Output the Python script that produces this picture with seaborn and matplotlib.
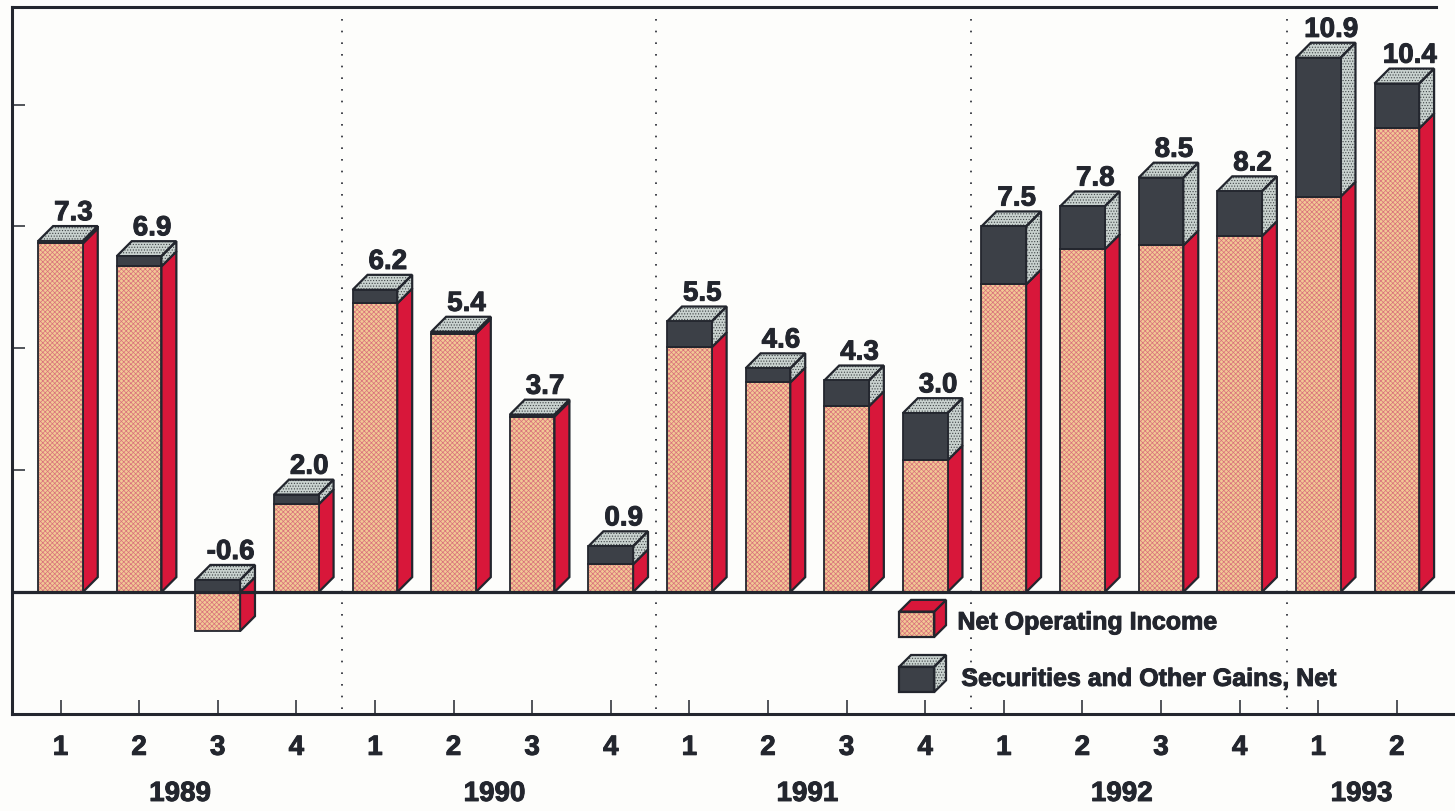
import matplotlib
matplotlib.use("Agg")
import matplotlib.pyplot as plt
import matplotlib.patheffects as pe
from matplotlib.patches import Polygon, Rectangle
import numpy as np
import pandas as pd
import seaborn as sns

quarters = ["1", "2", "3", "4", "1", "2", "3", "4", "1", "2", "3", "4", "1", "2", "3", "4", "1", "2"]
net_operating = [7.15, 6.68, -0.8, 1.80, 5.92, 5.30, 3.60, 0.57, 5.02, 4.30, 3.81, 2.70, 6.31, 7.03, 7.11, 7.30, 8.11, 9.51]
securities = [0.05, 0.21, 0.25, 0.20, 0.28, 0.04, 0.04, 0.37, 0.53, 0.29, 0.53, 0.97, 1.19, 0.88, 1.39, 0.92, 2.85, 0.92]
bar_labels = ["7.3", "6.9", "-0.6", "2.0", "6.2", "5.4", "3.7", "0.9", "5.5", "4.6", "4.3", "3.0", "7.5", "7.8", "8.5", "8.2", "10.9", "10.4"]
years = ["1989", "1990", "1991", "1992", "1993"]
year_centers = [1.52, 5.52, 9.5, 13.5, 16.55]
year_dividers = [3.58, 7.58, 11.58, 15.6]
series_names = ["Net Operating Income", "Securities and Other Gains, Net"]

INK = "#23262e"
DARK = "#3c4047"
RED = "#d8173a"
SAND = "#f2c994"
SAND_HATCH = "#d9707c"
GREY = "#c9d2cf"
GREY_HATCH = "#3f4547"
BAR_W = 0.568
DX, DY = 0.19, 0.307
HEAVY = [pe.withStroke(linewidth=0.7, foreground=INK)]

sns.set_style("white")
plt.rcParams["font.family"] = ["Liberation Sans", "DejaVu Sans"]
plt.rcParams["hatch.linewidth"] = 0.5

df = pd.DataFrame({"pos": np.arange(len(quarters)), "noi": net_operating, "sec": securities})
df["sec_base"] = df["noi"].clip(lower=0)
df["top"] = df["sec_base"] + df["sec"]

fig = plt.figure(figsize=(14.55, 8.12), dpi=100, facecolor="#fdfdfb")
ax = fig.add_axes([12 / 1455, (812 - 715) / 812, (1455 - 12) / 1455, (715 - 8) / 812])
ax.set_facecolor("#fdfdfb")

sns.barplot(data=df, x="pos", y="noi", native_scale=True, width=BAR_W, color=SAND,
            saturation=1, linewidth=0, ax=ax, errorbar=None, zorder=3)
n_first = len(ax.patches)
sns.barplot(data=df, x="pos", y="sec", native_scale=True, width=BAR_W, color=DARK,
            saturation=1, linewidth=0, ax=ax, errorbar=None, zorder=3, bottom=df["sec_base"].values)

for p in ax.patches[:n_first]:
    p.set_hatch("xxxxxxx")
    p.set_edgecolor(SAND_HATCH)
    p.set_linewidth(0)


def face(points, fc, hatch=None, hc=None, z=3.0):
    if hatch:
        ax.add_patch(Polygon(points, closed=True, facecolor=fc, edgecolor=hc, hatch=hatch,
                             linewidth=0, zorder=z))
        ax.add_patch(Polygon(points, closed=True, fill=False, edgecolor=INK, linewidth=1.6,
                             zorder=z + 0.1))
    else:
        ax.add_patch(Polygon(points, closed=True, facecolor=fc, edgecolor=INK, linewidth=1.6,
                             zorder=z))


def side(x, y0, y1, fc, hatch=None, hc=None, z=3.0):
    r = x + BAR_W / 2
    face([(r, y0), (r + DX, y0 + DY), (r + DX, y1 + DY), (r, y1)], fc, hatch, hc, z)


for row in df.itertuples():
    x = row.pos
    l = x - BAR_W / 2
    low, high = sorted((0, row.noi))
    side(x, low, high, RED, z=2.6)
    side(x, row.sec_base, row.top, GREY, "......", GREY_HATCH, z=2.7)
    face([(l, row.top), (l + DX, row.top + DY), (l + BAR_W + DX, row.top + DY), (l + BAR_W, row.top)],
         GREY, "......", GREY_HATCH, z=2.8)
    ax.add_patch(Rectangle((l, low), BAR_W, high - low, fill=False, edgecolor=INK, linewidth=1.3, zorder=3.4))
    ax.add_patch(Rectangle((l, row.sec_base), BAR_W, row.sec, fill=False, edgecolor=INK, linewidth=1.3, zorder=3.4))
    ax.text(x + 0.165, row.top + DY + 0.12, bar_labels[row.pos], ha="center", va="baseline",
            fontsize=20, fontweight="bold", color=INK, zorder=5, path_effects=HEAVY)

for d in year_dividers:
    ax.plot([d, d], [-2.4, 12], color=INK, linestyle=(0, (1, 6)), linewidth=1.2, zorder=1)

ax.axhline(0, color=INK, linewidth=2.3, zorder=4)

ax.set_xlim(-0.617, 17.74)
ax.set_ylim(-2.5, 12)
ax.set_xticks(df["pos"].values)
ax.set_xticklabels(quarters, fontsize=20, fontweight="bold", color=INK, path_effects=HEAVY)
ax.set_yticks([2.5, 5, 7.5, 10])
ax.set_yticklabels([])
ax.set_xlabel("")
ax.set_ylabel("")
ax.tick_params(axis="x", direction="in", length=10, width=1.1, color=INK, pad=15, bottom=True)
ax.tick_params(axis="y", direction="in", length=9, width=1.1, color=INK, left=True)
for name in ("left", "top", "bottom"):
    ax.spines[name].set_visible(True)
    ax.spines[name].set_color(INK)
    ax.spines[name].set_linewidth(2.2)
ax.spines["right"].set_visible(False)
ax.spines["top"].set_bounds(-0.617, 17.5)

for year, c in zip(years, year_centers):
    ax.text(c, -4.14, year, ha="center", va="center", fontsize=20, fontweight="bold",
            color=INK, clip_on=False, path_effects=HEAVY)

# legend swatches
lx, lw, ldx, ldy = 10.67, 0.445, 0.15, 0.24
y_a, y_b = -0.92, -2.05
h = 0.52
face([(lx, y_a), (lx + lw, y_a), (lx + lw, y_a + h), (lx, y_a + h)], SAND, "xxxxxxx", SAND_HATCH, z=3.4)
face([(lx + lw, y_a), (lx + lw + ldx, y_a + ldy), (lx + lw + ldx, y_a + h + ldy), (lx + lw, y_a + h)], RED)
face([(lx, y_a + h), (lx + ldx, y_a + h + ldy), (lx + lw + ldx, y_a + h + ldy), (lx + lw, y_a + h)], RED)
face([(lx, y_b), (lx + lw, y_b), (lx + lw, y_b + h), (lx, y_b + h)], DARK, z=3.4)
face([(lx + lw, y_b), (lx + lw + ldx, y_b + ldy), (lx + lw + ldx, y_b + h + ldy), (lx + lw, y_b + h)], GREY, "......", GREY_HATCH)
face([(lx, y_b + h), (lx + ldx, y_b + h + ldy), (lx + lw + ldx, y_b + h + ldy), (lx + lw, y_b + h)], GREY, "......", GREY_HATCH)
ax.text(11.41, -0.62, series_names[0], ha="left", va="center", fontsize=18, fontweight="bold", color=INK, path_effects=HEAVY)
ax.text(11.46, -1.78, series_names[1], ha="left", va="center", fontsize=18, fontweight="bold", color=INK, path_effects=HEAVY)

fig.savefig("out.png", dpi=100, facecolor=fig.get_facecolor())
